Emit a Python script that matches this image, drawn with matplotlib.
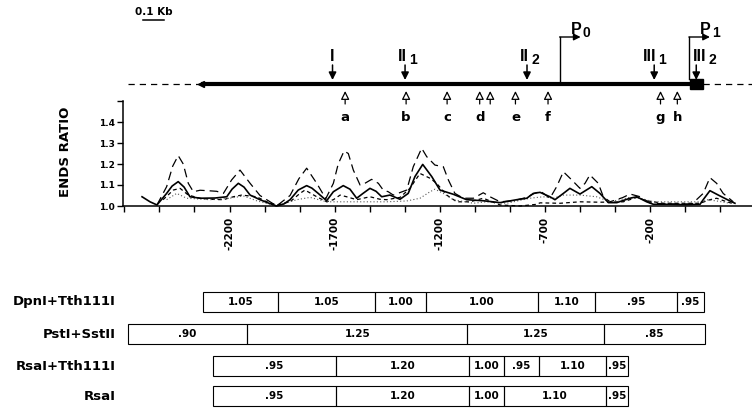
import matplotlib
matplotlib.use('Agg')
import matplotlib.pyplot as plt
from matplotlib.patches import Rectangle
from matplotlib.transforms import blended_transform_factory

plt.rcParams['font.family'] = ['DejaVu Sans']
plt.rcParams['font.weight'] = 'bold'

# ---------------- data ----------------
# ends-ratio profiles (x in bp relative to P1, y = ends ratio)
solid_x = [-2616, -2578, -2545, -2499, -2473, -2444, -2416, -2388, -2340, -2269, -2213, -2188,
           -2158, -2131, -2102, -2055, -2017, -1976, -1941, -1912, -1873, -1833, -1808, -1778,
           -1738, -1706, -1659, -1627, -1595, -1565, -1532, -1503, -1476, -1437, -1389, -1350,
           -1318, -1281, -1238, -1199, -1136, -1072, -993, -913, -834, -786, -755, -723, -676,
           -652, -612, -581, -533, -477, -438, -398, -358, -295, -263, -216, -184, -105, -33,
           38, 53, 85, 125, 180, 204]
solid_y = [1.044, 1.020, 1.005, 1.060, 1.095, 1.116, 1.090, 1.044, 1.037, 1.038, 1.044, 1.080,
           1.108, 1.090, 1.052, 1.030, 1.015, 1.000, 1.010, 1.030, 1.076, 1.097, 1.085, 1.060,
           1.025, 1.068, 1.097, 1.080, 1.037, 1.060, 1.084, 1.070, 1.044, 1.052, 1.032, 1.060,
           1.140, 1.198, 1.140, 1.076, 1.056, 1.030, 1.025, 1.016, 1.030, 1.037, 1.060, 1.065, 1.044,
           1.030, 1.060, 1.084, 1.057, 1.092, 1.060, 1.016, 1.016, 1.037, 1.044, 1.020, 1.008, 1.008, 1.006,
           1.008, 1.030, 1.073, 1.052, 1.024, 1.013]

long_x = [-2545, -2499, -2470, -2444, -2420, -2396, -2372, -2340, -2290, -2261, -2229, -2190,
          -2150, -2102, -2055, -2007, -1976, -1912, -1870, -1833, -1785, -1742, -1706, -1683,
          -1655, -1635, -1611, -1579, -1556, -1524, -1492, -1469, -1445, -1421, -1357, -1326,
          -1286, -1262, -1223, -1183, -1159, -1128, -1088, -1040, -993, -961, -913, -850, -790,
          -750, -720, -676, -644, -612, -572, -533, -509, -486, -446, -422, -390, -330, -295,
          -250, -200, -137, 0, 53, 85, 117, 148, 196]
long_y = [1.005, 1.092, 1.190, 1.240, 1.200, 1.108, 1.068, 1.075, 1.072, 1.070, 1.060, 1.124,
          1.171, 1.108, 1.050, 1.020, 1.000, 1.050, 1.130, 1.180, 1.108, 1.035, 1.108, 1.200,
          1.262, 1.250, 1.171, 1.100, 1.108, 1.127, 1.108, 1.076, 1.068, 1.052, 1.076, 1.187,
          1.275, 1.235, 1.195, 1.187, 1.124, 1.060, 1.037, 1.037, 1.063, 1.044, 1.020, 1.025, 1.040,
          1.060, 1.070, 1.037, 1.092, 1.163, 1.124, 1.084, 1.108, 1.148, 1.108, 1.044, 1.020, 1.040, 1.057,
          1.045, 1.015, 1.010, 1.010, 1.060, 1.135, 1.108, 1.060, 1.020]

short_x = [-2516, -2467, -2435, -2396, -2340, -2293, -2229, -2182, -2142, -2071, -2023, -1976,
           -1912, -1865, -1841, -1785, -1738, -1706, -1674, -1643, -1595, -1532, -1484, -1452,
           -1389, -1342, -1294, -1246, -1215, -1167, -1119, -1056, -993, -913, -818, -739, -723,
           -628, -533, -438, -327, -263, -216, -137, 38, 85, 117, 165, 200]
short_y = [1.030, 1.076, 1.084, 1.052, 1.037, 1.032, 1.030, 1.044, 1.052, 1.044, 1.020, 1.005,
           1.020, 1.060, 1.076, 1.044, 1.020, 1.030, 1.052, 1.044, 1.030, 1.044, 1.032, 1.030,
           1.041, 1.084, 1.155, 1.132, 1.108, 1.052, 1.020, 1.020, 1.037, 1.005, 1.000, 1.008, 1.015,
           1.013, 1.020, 1.018, 1.020, 1.041, 1.025, 1.013, 1.013, 1.030, 1.037, 1.020, 1.010]

dot_x = [-2499, -2451, -2404, -2293, -2198, -2134, -2071, -1976, -1880, -1817, -1738, -1674,
         -1452, -1357, -1294, -1246, -1223, -1183, -1136, -1040, -977, -882, -771, -708, -660,
         -612, -533, -454, -390, -295, -248, -184, 50, 70, 117, 180]
dot_y = [1.030, 1.060, 1.037, 1.030, 1.037, 1.048, 1.025, 1.000, 1.030, 1.041, 1.020, 1.020,
         1.020, 1.024, 1.037, 1.068, 1.080, 1.060, 1.030, 1.013, 1.020, 1.013, 1.037, 1.044, 1.037,
         1.052, 1.052, 1.044, 1.020, 1.041, 1.037, 1.020, 1.020, 1.030, 1.024, 1.013]

y_ticks = [1.0, 1.1, 1.2, 1.3, 1.4, 1.5]
y_ticklabels = ['1.0', '1.1', '1.2', '1.3', '1.4', '']
x_labelled = [-2200, -1700, -1200, -700, -200]

# map features (bp)
site_names = ['I', 'II', 'II', 'III', 'III']
site_subs = ['', '1', '2', '1', '2']
site_x = [-1710, -1365, -785, -180, 20]
prom_subs = ['0', '1']
prom_x = [-630, -15]
open_letters = ['a', 'b', 'c', 'd', '', 'e', 'f', 'g', 'h']
open_x = [-1650, -1360, -1165, -1010, -960, -840, -685, -150, -70]
gene_start, gene_end = -2335, -12
box_end = 50
map_left = -2685

# fragment table
row_names = ['DpnI+Tth111I', 'PstI+SstII', 'RsaI+Tth111I', 'RsaI']
dpn_edges = [-2325, -1970, -1510, -1265, -735, -460, -70, 55]
dpn_vals = ['1.05', '1.05', '1.00', '1.00', '1.10', '.95', '.95']
pst_edges = [-2685, -2115, -1070, -420, 60]
pst_vals = ['.90', '1.25', '1.25', '.85']
rsatth_edges = [-2280, -1695, -1060, -895, -730, -410, -305]
rsatth_vals = ['.95', '1.20', '1.00', '.95', '1.10', '.95']
rsa_edges = [-2280, -1695, -1060, -895, -410, -305]
rsa_vals = ['.95', '1.20', '1.00', '1.10', '.95']

# ---------------- layout ----------------
W, H = 752, 411
PX_PER_BP = 105.125 / 500.0
LAB_FONT = ['Liberation Sans', 'DejaVu Sans']


def px2bp(px):
    return -2200 + (px - 229.5) / PX_PER_BP


fig = plt.figure(figsize=(W / 100, H / 100), dpi=100)

# overlay axis in (bp, pixel-row) coordinates
ov = fig.add_axes([0, 0, 1, 1])
ov.set_xlim(px2bp(0), px2bp(W))
ov.set_ylim(H, 0)
ov.axis('off')

# plot axis
ax = fig.add_axes([123 / W, (H - 206) / H, (W - 123) / W, 105 / H])
ax.set_facecolor('none')
ax.set_xlim(px2bp(123), px2bp(W))
ax.set_ylim(1.0, 1.0 + 105 / 210)

ax.plot(long_x, long_y, color='black', lw=0.9, dashes=(7, 4), clip_on=False)
ax.plot(short_x, short_y, color='black', lw=0.9, dashes=(3, 2.5), clip_on=False)
ax.plot(dot_x, dot_y, color='0.35', lw=0.8, dashes=(1, 2), clip_on=False)
ax.plot(solid_x, solid_y, color='black', lw=1.2, clip_on=False)

for s in ['top', 'right']:
    ax.spines[s].set_visible(False)
for s in ['left', 'bottom']:
    ax.spines[s].set_linewidth(1.1)

ax.set_yticks(y_ticks)
ax.set_yticklabels(y_ticklabels, fontsize=6.5, fontweight='bold')
xt = [-2700 + k * 500 / 3 for k in range(18)]
ax.set_xticks(xt)
ax.set_xticklabels([str(int(round(v))) if int(round(v)) in x_labelled else '' for v in xt],
                   fontsize=7.5, fontweight='bold', rotation=90)
ax.tick_params(axis='both', direction='out', length=4, width=1)
ax.tick_params(axis='y', pad=2)
ax.tick_params(axis='x', pad=4)
ax.set_ylabel('ENDS RATIO', fontsize=9.5, fontweight='bold')
ax.yaxis.set_label_coords((72 - 123) / (W - 123), (206 - 152) / 105)

# ---------------- map ----------------
LINE_Y = 84
ov.plot([map_left, gene_start], [LINE_Y, LINE_Y], color='black', lw=0.9, dashes=(5, 4))
ov.plot([box_end, px2bp(W)], [LINE_Y, LINE_Y], color='black', lw=0.9, dashes=(5, 4))
ov.plot([gene_start, gene_end], [LINE_Y, LINE_Y], color='black', lw=3.0, solid_capstyle='butt')
ov.plot([gene_start], [LINE_Y], marker='<', color='black', ms=4.5)
ov.add_patch(Rectangle((gene_end, LINE_Y - 5), box_end - gene_end, 10, color='black'))

# scale bar
ov.plot([px2bp(143), px2bp(143) + 100], [20.5, 20.5], color='black', lw=1.1)
ov.text(px2bp(143) + 50, 12, '0.1 Kb', ha='center', va='center', fontsize=7.5, fontweight='bold')

# sites (filled downward arrows)
for i, (nm, sb, x) in enumerate(zip(site_names, site_subs, site_x)):
    ov.annotate('', xy=(x, 80), xytext=(x, 65),
                arrowprops=dict(arrowstyle='-|>,head_length=0.5,head_width=0.25', color='black',
                                lw=1.1, mutation_scale=9, shrinkA=0, shrinkB=0))
    if sb == '':
        ov.text(x, 56.5, nm, ha='center', va='center', fontsize=11.5, fontweight='bold',
                family=LAB_FONT)
    elif i == len(site_names) - 1:
        ov.annotate(nm, xy=(x, 56.5), xytext=(-3, 0), textcoords='offset pixels',
                    ha='left', va='center', fontsize=11.5, fontweight='bold', family=LAB_FONT)
        ov.annotate(sb, xy=(x, 56.5), xytext=(12, -4), textcoords='offset pixels',
                    ha='left', va='center', fontsize=10, fontweight='bold', family=LAB_FONT)
    else:
        ov.annotate(nm, xy=(x, 56.5), xytext=(2, 0), textcoords='offset pixels',
                    ha='right', va='center', fontsize=11.5, fontweight='bold', family=LAB_FONT)
        ov.annotate(sb, xy=(x, 56.5), xytext=(4, -4), textcoords='offset pixels',
                    ha='left', va='center', fontsize=10, fontweight='bold', family=LAB_FONT)

# promoters (bent arrows)
for sb, x in zip(prom_subs, prom_x):
    ov.plot([x, x], [LINE_Y - 5 if sb == '1' else LINE_Y, 37], color='black', lw=1.0)
    ov.annotate('', xy=(x + 100, 37), xytext=(x, 37),
                arrowprops=dict(arrowstyle='-|>,head_length=0.5,head_width=0.25', color='black',
                                lw=1.0, mutation_scale=8, shrinkA=0, shrinkB=0))
    ov.annotate('P', xy=(x, 30), xytext=(11, 0), textcoords='offset pixels',
                ha='left', va='center', fontsize=11.5, fontweight='bold', family=LAB_FONT)
    ov.annotate(sb, xy=(x, 30), xytext=(23, -3), textcoords='offset pixels',
                ha='left', va='center', fontsize=10, fontweight='bold', family=LAB_FONT)

# open upward arrows
for lt, x in zip(open_letters, open_x):
    ov.annotate('', xy=(x, 91), xytext=(x, 104),
                arrowprops=dict(arrowstyle='-|>,head_length=0.5,head_width=0.25', fc='white',
                                ec='black', lw=0.9, mutation_scale=10, shrinkA=0, shrinkB=0))
    if lt:
        ov.text(x, 117, lt, ha='center', va='center', fontsize=9.5, fontweight='bold')

# ---------------- table ----------------
rows = [(dpn_edges, dpn_vals), (pst_edges, pst_vals), (rsatth_edges, rsatth_vals), (rsa_edges, rsa_vals)]
row_y = [301.5, 334, 366, 396]
ROW_H = 20
lab_tr = blended_transform_factory(fig.transFigure, ov.transData)
for name, (edges, vals), yc in zip(row_names, rows, row_y):
    ov.text(116 / W, yc, name, transform=lab_tr, ha='right', va='center',
            fontsize=9.5, fontweight='bold')
    for a, b, v in zip(edges[:-1], edges[1:], vals):
        ov.add_patch(Rectangle((a, yc - ROW_H / 2), b - a, ROW_H, fill=False,
                               ec='black', lw=0.8))
        ov.text((a + b) / 2, yc, v, ha='center', va='center', fontsize=7.5, fontweight='bold')

fig.savefig('out.png', dpi=100)
